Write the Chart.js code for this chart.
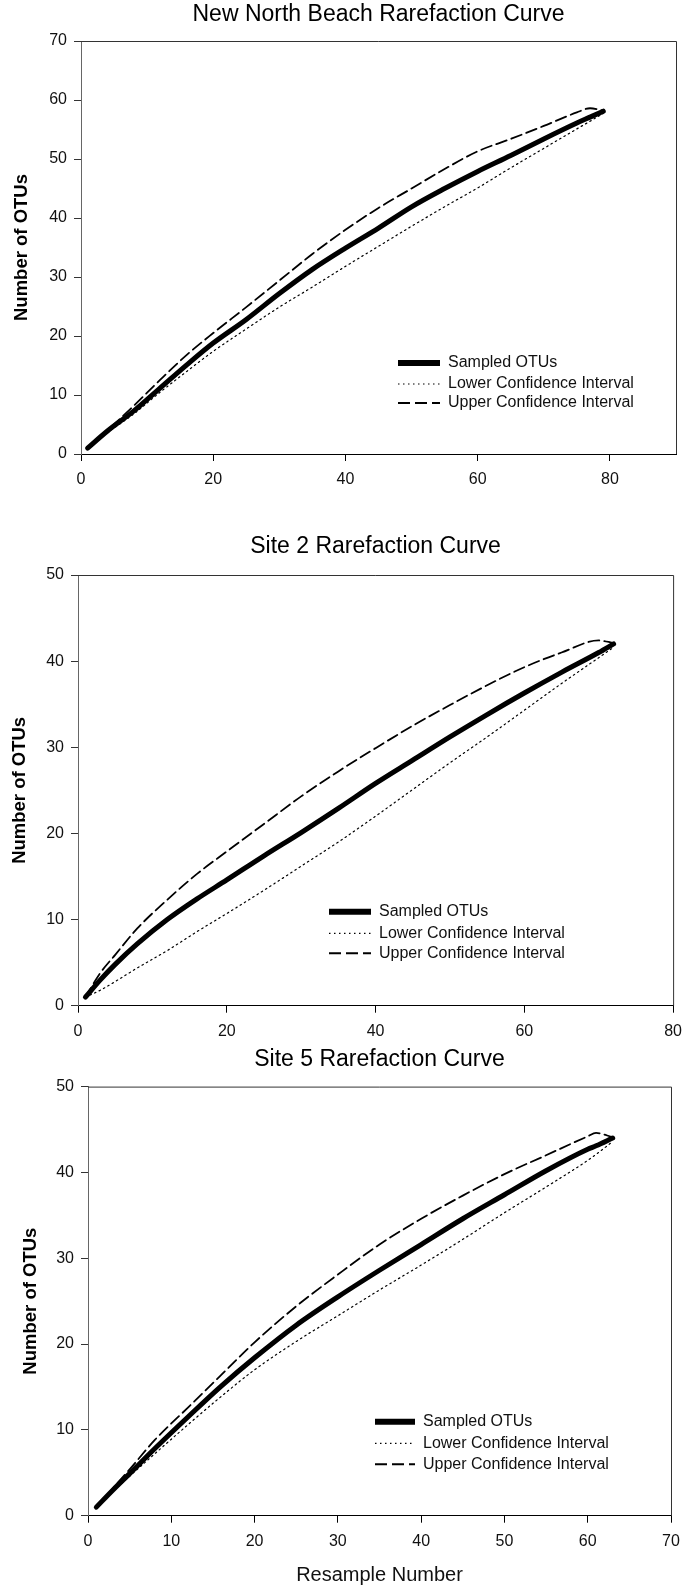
<!DOCTYPE html>
<html>
<head>
<meta charset="utf-8">
<script src="https://cdn.jsdelivr.net/npm/chart.js@4/dist/chart.umd.min.js"></script>
<style>
  html, body { margin: 0; padding: 0; background: #fff; }
  body { position: relative; width: 691px; height: 1587px; overflow: hidden; }
  canvas { position: absolute; left: 0; }
</style>
</head>
<body>
<canvas id="c1" width="691" height="500" style="top:0px"></canvas>
<canvas id="c2" width="691" height="545" style="top:500px"></canvas>
<canvas id="c3" width="691" height="542" style="top:1045px"></canvas>
<script>
// New North Beach
const nnbX       = [1, 4, 8, 12, 16, 20, 25, 30, 35, 40, 45, 50, 55, 60, 65, 70, 75, 77, 79];
const nnbSampled = [1, 3.9, 7.3, 11.2, 15.1, 18.8, 22.8, 27.2, 31.3, 34.9, 38.3, 41.9, 45.0, 47.9, 50.6, 53.4, 56.1, 57.1, 58.1];
const nnbLower   = [1, 3.6, 6.8, 10.5, 14.0, 17.4, 21.2, 24.9, 28.3, 31.8, 35.2, 38.6, 41.9, 45.1, 48.5, 51.8, 55.1, 56.4, 57.7];
const nnbUpper   = [1, 4.0, 8.2, 12.6, 16.8, 20.5, 24.9, 29.4, 33.9, 38.0, 41.7, 45.0, 48.3, 51.3, 53.4, 55.6, 57.9, 58.6, 58.2];

// Site 2
const s2X       = [1, 3, 5, 8, 12, 16, 20, 25, 30, 35, 40, 45, 50, 55, 60, 65, 70, 72];
const s2Sampled = [1, 3.0, 4.8, 7.2, 10.0, 12.4, 14.6, 17.4, 20.1, 22.9, 25.8, 28.5, 31.2, 33.8, 36.3, 38.7, 41.0, 42.0];
const s2Lower   = [1, 1.8, 2.8, 4.4, 6.4, 8.6, 10.7, 13.4, 16.2, 19.0, 22.0, 25.1, 28.2, 31.2, 34.3, 37.4, 40.4, 41.6];
const s2Upper   = [1, 3.8, 5.9, 9.0, 12.3, 15.3, 17.9, 21.1, 24.3, 27.2, 29.9, 32.5, 34.9, 37.2, 39.3, 41.0, 42.4, 42.1];

// Site 5
const s5X       = [1, 3, 5, 8, 12, 16, 20, 25, 30, 35, 40, 45, 50, 55, 60, 61, 63];
const s5Sampled = [1, 3.0, 4.9, 7.8, 11.5, 15.1, 18.4, 22.2, 25.5, 28.6, 31.6, 34.6, 37.4, 40.2, 42.7, 43.1, 44.0];
const s5Lower   = [1, 2.8, 4.6, 7.2, 10.6, 13.9, 17.0, 20.3, 23.3, 26.3, 29.2, 32.2, 35.3, 38.3, 41.4, 42.1, 43.6];
const s5Upper   = [1, 3.2, 5.4, 8.8, 12.6, 16.4, 20.2, 24.4, 28.1, 31.6, 34.6, 37.3, 39.8, 42.0, 44.2, 44.6, 44.1];

const seriesNames = ['Sampled OTUs', 'Lower Confidence Interval', 'Upper Confidence Interval'];

Chart.defaults.font.family = "'Liberation Sans', Arial, sans-serif";
Chart.defaults.color = '#111';

const pts = (xs, ys) => xs.map((x, i) => ({ x: x, y: ys[i] }));

// plot frame (top and right edges)
const framePlugin = {
  id: 'frame',
  afterDatasetsDraw(chart) {
    const a = chart.chartArea, ctx = chart.ctx;
    ctx.save();
    ctx.strokeStyle = '#333';
    ctx.lineWidth = 1;
    ctx.beginPath();
    ctx.moveTo(a.left, a.top + 0.5);
    ctx.lineTo(a.right + 0.5, a.top + 0.5);
    ctx.lineTo(a.right + 0.5, a.bottom);
    ctx.stroke();
    ctx.restore();
  }
};

// legend drawn inside the plot
const insideLegend = {
  id: 'insideLegend',
  afterDraw(chart, args, opts) {
    const ctx = chart.ctx;
    ctx.save();
    chart.data.datasets.forEach((ds, i) => {
      const y = opts.rows[i];
      ctx.strokeStyle = ds.borderColor;
      ctx.lineWidth = ds.legendWidth || ds.borderWidth;
      ctx.setLineDash(ds.legendDash || ds.borderDash || []);
      ctx.lineCap = 'butt';
      ctx.beginPath();
      ctx.moveTo(opts.x0, y);
      ctx.lineTo(opts.x1, y);
      ctx.stroke();
      ctx.setLineDash([]);
      ctx.fillStyle = '#111';
      ctx.font = "16px 'Liberation Sans', Arial, sans-serif";
      ctx.textBaseline = 'middle';
      ctx.fillText(ds.label, opts.tx, y);
    });
    ctx.restore();
  }
};

function makeChart(id, cfg) {
  new Chart(document.getElementById(id), {
    type: 'line',
    data: {
      datasets: [
        { label: seriesNames[0], data: pts(cfg.x, cfg.sampled), borderColor: '#000', borderWidth: 5, legendWidth: 6 },
        { label: seriesNames[1], data: pts(cfg.x, cfg.lower), borderColor: '#000', borderWidth: 1.2, borderDash: [1.5, 3.5] },
        { label: seriesNames[2], data: pts(cfg.x, cfg.upper), borderColor: '#000', borderWidth: 1.8, borderDash: [11, 5], legendWidth: 2, legendDash: [12, 5] }
      ]
    },
    options: {
      responsive: false,
      animation: false,
      events: [],
      elements: {
        point: { radius: 0 },
        line: { cubicInterpolationMode: 'monotone', fill: false, borderCapStyle: 'round' }
      },
      layout: { padding: { left: 0, right: 691 - cfg.right, top: 0, bottom: 0 } },
      plugins: {
        legend: { display: false },
        tooltip: { enabled: false },
        title: {
          display: true,
          text: cfg.title,
          fullSize: false,
          color: '#000',
          font: { size: 23, weight: 'normal' },
          padding: { top: cfg.titleTop, bottom: cfg.titleBottom }
        },
        insideLegend: cfg.legend
      },
      scales: {
        x: {
          type: 'linear',
          min: 0,
          max: cfg.xMax,
          afterFit(s) { s.height = cfg.xAxisH; },
          ticks: { stepSize: cfg.xStep, includeBounds: false, padding: 9, font: { size: 16 }, color: '#111' },
          grid: { drawOnChartArea: false, drawTicks: true, tickLength: 7, color: '#000' },
          border: { color: '#000', width: 1 },
          title: {
            display: !!cfg.xTitle,
            text: cfg.xTitle || '',
            color: '#111',
            font: { size: 20, weight: 'normal' },
            padding: { top: 0, bottom: 0 }
          }
        },
        y: {
          type: 'linear',
          min: 0,
          max: cfg.yMax,
          afterFit(s) { s.width = cfg.left; },
          ticks: { stepSize: 10, padding: 7, font: { size: 16 }, color: '#111' },
          grid: { drawOnChartArea: false, drawTicks: true, tickLength: 7, color: '#333' },
          border: { color: '#666', width: 1 },
          title: {
            display: true,
            text: 'Number of OTUs',
            color: '#000',
            font: { size: 18.5, weight: 'bold' },
            padding: { top: cfg.yTitlePad, bottom: 0 }
          }
        }
      }
    },
    plugins: [framePlugin, insideLegend]
  });
}

makeChart('c1', {
  title: 'New North Beach Rarefaction Curve',
  x: nnbX, sampled: nnbSampled, lower: nnbLower, upper: nnbUpper,
  xMax: 90, xStep: 20, yMax: 70,
  left: 81, right: 676, titleTop: 1.2, titleBottom: 12.2, xAxisH: 46, yTitlePad: 11,
  legend: { x0: 398, x1: 440, tx: 448, rows: [363, 384, 403] }
});

makeChart('c2', {
  title: 'Site 2 Rarefaction Curve',
  x: s2X, sampled: s2Sampled, lower: s2Lower, upper: s2Upper,
  xMax: 80, xStep: 20, yMax: 50,
  left: 78, right: 678, titleTop: 32.5, titleBottom: 14.9, xAxisH: 39.3, yTitlePad: 9,
  legend: { x0: 329, x1: 371, tx: 379, rows: [411.7, 433.3, 453.3] }
});

makeChart('c3', {
  title: 'Site 5 Rarefaction Curve',
  x: s5X, sampled: s5Sampled, lower: s5Lower, upper: s5Upper,
  xMax: 70, xStep: 10, yMax: 50,
  left: 88, right: 671, titleTop: 1.2, titleBottom: 12.8, xAxisH: 71.3, yTitlePad: 20,
  xTitle: 'Resample Number',
  legend: { x0: 375, x1: 415, tx: 423, rows: [376.7, 398.3, 419.3] }
});
</script>
</body>
</html>
